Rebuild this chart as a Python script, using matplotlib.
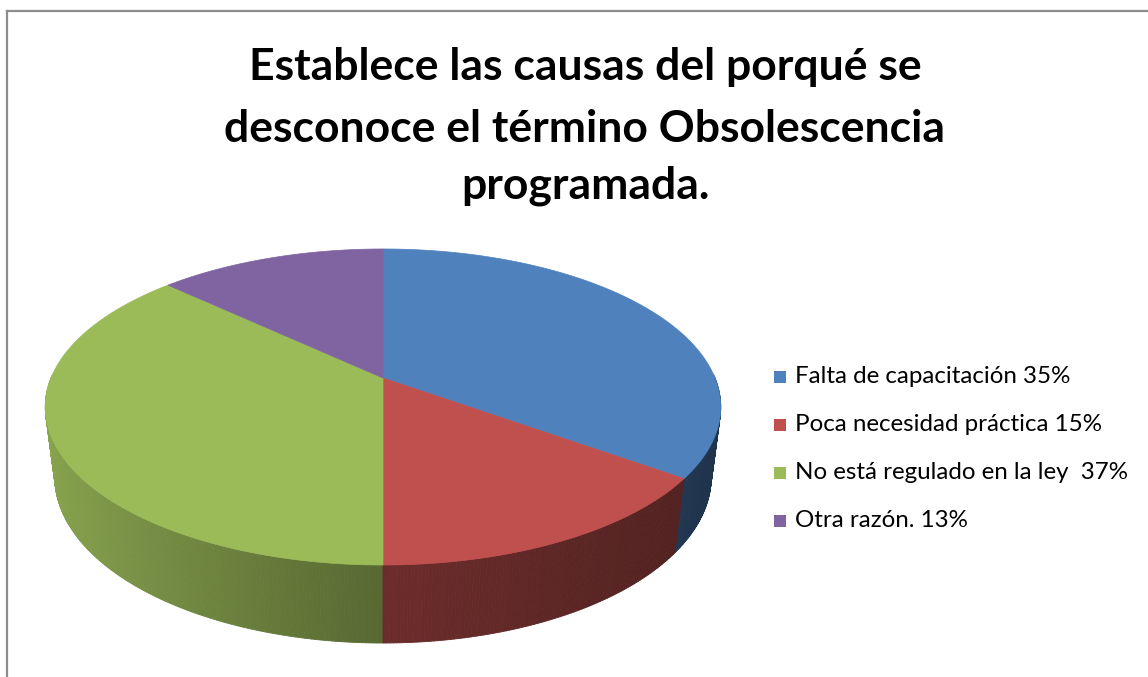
import numpy as np
import matplotlib
matplotlib.use("Agg")
import matplotlib.pyplot as plt
from matplotlib.collections import PolyCollection
from matplotlib.colors import to_rgb

# ---- data ----
title_lines = ["Establece las causas del porqué se",
               "desconoce el término Obsolescencia",
               "programada."]
categories = ["Falta de capacitación 35%",
              "Poca necesidad práctica 15%",
              "No está regulado en la ley  37%",
              "Otra razón. 13%"]
values = [35, 15, 37, 13]
colors = ["#4f81bd", "#c0504d", "#9bbb59", "#8064a2"]

# ---- layout (pixels) ----
W, H = 1148, 677
CX, CY = 383.0, 378.0      # pie vertex on screen
A, B = 332.0, 152.7        # horizontal / vertical radii
K = 0.1835                 # perspective depth factor
CH, M = 71.1, 0.028        # thickness and its perspective term

def proj(theta_deg, z):
    t = np.radians(theta_deg)
    x, y = np.cos(t), np.sin(t)
    d = 1 + K * y + M * z
    return CX + A * x / d, CY + (-B * y + CH * z) / d

def shade(rgb, theta_deg):
    c = np.cos(np.radians(theta_deg))
    f = np.where(c < 0, 0.56 - 0.33 * c, 0.56 - 0.17 * c)
    return tuple(np.clip(np.array(rgb) * f, 0, 1))

fig = plt.figure(figsize=(W / 100, H / 100), dpi=100)
ax = fig.add_axes([0, 0, 1, 1])
ax.set_xlim(0, W)
ax.set_ylim(H, 0)
ax.axis("off")

fr = np.array(values, dtype=float) / np.sum(values)
cum = np.concatenate([[0], np.cumsum(fr)])
starts = 90 - 360 * cum[:-1]
ends = 90 - 360 * cum[1:]

# side walls
polys, cols, depth = [], [], []
for s, e, c in zip(starts, ends, colors):
    n = max(int(abs(s - e) / 0.5), 2)
    th = np.linspace(s, e, n + 1)
    rgb = to_rgb(c)
    for t1, t2 in zip(th[:-1], th[1:]):
        tm = 0.5 * (t1 + t2)
        sm = np.sin(np.radians(tm))
        if sm > 0.02:
            continue
        x1, y1 = proj(t1, 0); x2, y2 = proj(t2, 0)
        x3, y3 = proj(t2, 1); x4, y4 = proj(t1, 1)
        polys.append([(x1, y1), (x2, y2), (x3, y3), (x4, y4)])
        col = shade(rgb, tm)
        cols.append(col)
        depth.append(sm)
order = np.argsort(depth)[::-1]
pc = PolyCollection([polys[i] for i in order],
                    facecolors=[cols[i] for i in order],
                    edgecolors=[cols[i] for i in order], linewidths=0.6)
ax.add_collection(pc)

# top faces
for s, e, c in zip(starts, ends, colors):
    th = np.linspace(s, e, 200)
    xs, ys = proj(th, 0)
    xs = np.concatenate([[CX], xs])
    ys = np.concatenate([[CY], ys])
    ax.fill(xs, ys, facecolor=c, edgecolor=c, linewidth=0.5)

# title
title_y = [80, 142, 199]
for line, y in zip(title_lines, title_y):
    ax.text(585, y, line, ha="center", va="baseline", fontsize=32,
            fontweight="bold", family="Lato", color="black")

# legend
leg_y0, leg_dy = 383, 48
for i, (lab, c) in enumerate(zip(categories, colors)):
    y = leg_y0 + i * leg_dy
    ax.scatter([780], [y - 6.5], marker="s", s=80, color=c, linewidths=0)
    ax.text(795, y, lab, ha="left", va="baseline", fontsize=17.4,
            family="Lato", color="black")

# chart border
ax.plot([6.5, 6.5], [H, 11], color="#8c8c8c", lw=1.6, solid_capstyle="projecting")
ax.plot([6.5, W], [11, 11], color="#8c8c8c", lw=1.6, solid_capstyle="projecting")

fig.savefig("out.png", dpi=100)
